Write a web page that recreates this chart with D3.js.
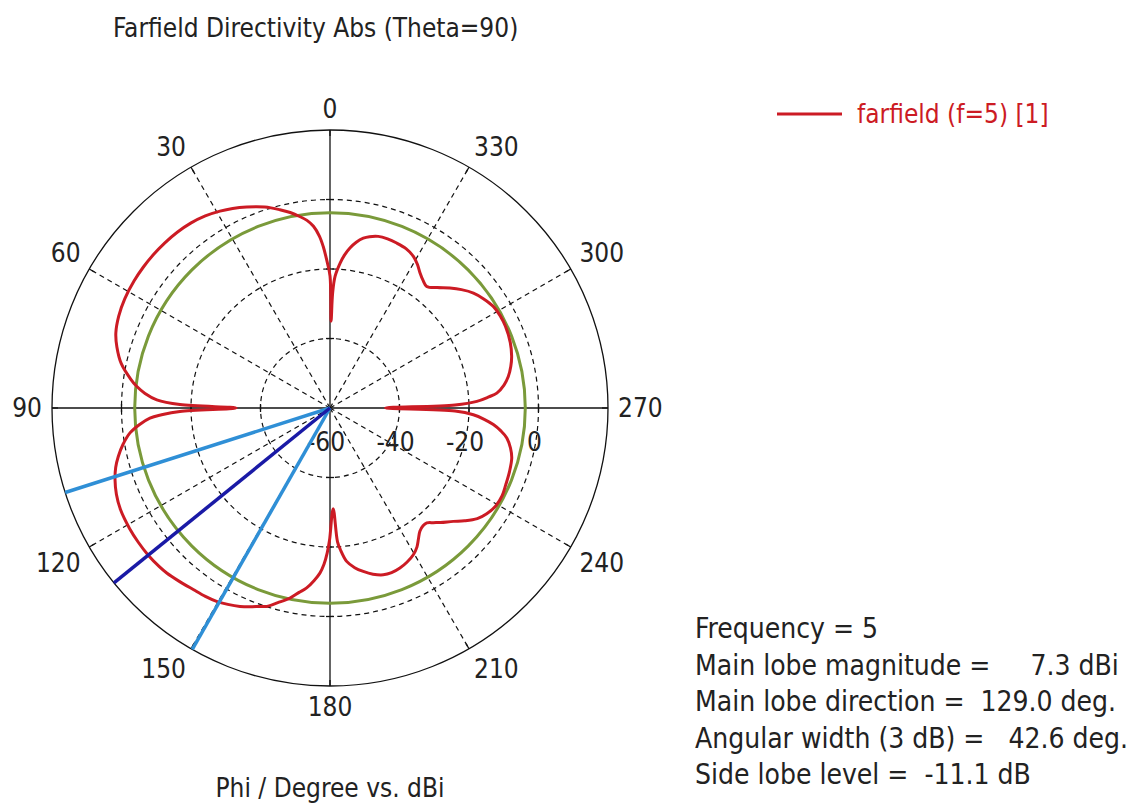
<!DOCTYPE html>
<html>
<head>
<meta charset="utf-8">
<script src="https://cdn.jsdelivr.net/npm/d3@7"></script>
<style>
  html, body { margin: 0; padding: 0; background: #ffffff; }
  svg { display: block; }
  text { font-family: "DejaVu Sans Condensed", "DejaVu Sans", sans-serif; font-stretch: condensed; fill: #222; }
</style>
</head>
<body>
<svg id="chart" width="1129" height="807"></svg>
<script>
// Farfield cut, Theta = 90: directivity (dBi) versus Phi (degrees)
const phiDeg = [
  0, 1.3, 2.4, 3.5, 5.2, 7, 9, 11.5, 14.2, 18, 22.5, 26, 29.2, 33, 37, 41, 45, 49, 53, 57,
  62, 66.5, 70.7, 74, 78, 81.8, 83.6, 85.5, 87.3, 88.7, 90, 91.3, 92.3, 93.2, 95, 97.1,
  100, 102.9, 105.5, 108.4, 112, 115.8, 121, 125, 129, 133, 135.3, 139, 143, 146.5, 149.6, 152.5,
  155.6, 158, 160.6, 162.3, 165, 168.1, 170.5, 172.6, 174.7, 176.5, 177.8, 178.9, 179.8, 181.8,
  183.2, 184.2, 186.2, 188.8, 191.5, 194.5, 197.7, 200.5, 203.6, 206.5, 209.6, 212, 214, 216.1,
  218.3, 220.1, 222, 224, 227.4, 230, 233.1, 236, 239.4, 243, 246.3, 250.5, 254.6, 257.5, 260.4,
  262.3, 264.2, 265.8, 267.3, 268.6, 270, 271.4, 272.6, 274, 275.1, 277.5, 280, 283, 285.9, 290,
  295, 298.5, 301.9, 305.5, 308.7, 312, 315, 318.3, 321.5, 323.8, 326.3, 328.7, 331.2, 334.5,
  338, 341.2, 344.3, 347, 348.9, 351, 352.9, 354.6, 356, 357.8, 358.7, 359.3
];
const dirDbi = [
  -22, -17.3, -13.5, -10.5, -7.5, -5.6, -4.2, -2.6, -1.15, 0.8, 2.6, 3.9, 4.9, 5.9, 6.6, 7.0, 7.2, 7.3, 7.3, 7.2,
  6.9, 6.3, 5.3, 3.8, 1.4, -2.1, -4.0, -6.6, -10.1, -16.8, -33, -16.8, -11.5, -8.1, -4.9, -2.0,
  0.5, 2.5, 4.0, 5.2, 6.3, 7.0, 7.3, 7.35, 7.3, 7.05, 6.8, 6.1, 5.4, 5.0, 4.5, 3.7,
  2.7, 1.7, 0.55, -0.05, -2.0, -4.1, -6.2, -7.8, -10.1, -12.4, -15, -18.3, -22, -31,
  -21.5, -19.1, -15.6, -13.5, -12.0, -10.6, -9.6, -9.4, -9.75, -10.4, -11.45, -12.8, -14.5, -16.1,
  -16.8, -16.75, -15.6, -14.2, -11.8, -9.5, -7.0, -5.6, -4.6, -4.4, -4.8, -5.2, -5.75, -6.8, -8.4,
  -10.3, -12.75, -15.5, -18.7, -24, -44, -24, -17.7, -14.2, -11.8, -9.5, -7.9, -6.6, -5.65, -4.8,
  -4.3, -4.3, -4.65, -5.8, -7.1, -9.1, -11.2, -13.6, -15.3, -14.6, -13.3, -11.6, -10.2, -9.2,
  -8.8, -8.6, -8.7, -9.4, -10.2, -11.7, -13.6, -15.8, -18.2, -22.1, -27, -35
];

// Radial (dB) axis
const radialDomain = [-60, 20];
const ringValues = [-40, -20, 0];
const ringLabelValues = [-60, -40, -20, 0];

// Angular axis
const angleTicks = [0, 30, 60, 90, 120, 150, 180, 210, 240, 270, 300, 330];

// Main lobe results
const frequency = 5;
const mainLobeMag = 7.3;       // dBi
const mainLobeDir = 129.0;     // deg
const angularWidth = 42.6;     // deg (3 dB)
const sideLobeLevel = -11.1;   // dB

const titleText = "Farfield Directivity Abs (Theta=90)";
const axisTitle = "Phi / Degree vs. dBi";
const legendText = "farfield (f=5) [1]";
const infoLines = [
  "Frequency = " + frequency,
  "Main lobe magnitude =     " + mainLobeMag.toFixed(1) + " dBi",
  "Main lobe direction =  " + mainLobeDir.toFixed(1) + " deg.",
  "Angular width (3 dB) =   " + angularWidth.toFixed(1) + " deg.",
  "Side lobe level =  " + sideLobeLevel.toFixed(1) + " dB"
];

// ---- layout ----
const cx = 330, cy = 408, R = 278;
const fontSize = 26;
const colors = {
  curve: "#cc1b24",
  sideLobe: "#7a9a3a",
  mainDir: "#1a1aa6",
  beamEdge: "#2f8fd6",
  grid: "#111"
};

const svg = d3.select("#chart");
const rScale = d3.scaleLinear().domain(radialDomain).range([0, R]);
const toRad = d => d * Math.PI / 180;
// Phi runs counter-clockwise from the top of the plot
const polar = (phi, rad) => [cx - rad * Math.sin(toRad(phi)), cy - rad * Math.cos(toRad(phi))];

const g = svg.append("g");

// dashed rings
g.selectAll("circle.ring").data(ringValues).join("circle")
  .attr("class", "ring")
  .attr("cx", cx).attr("cy", cy)
  .attr("r", d => rScale(d))
  .attr("fill", "none").attr("stroke", colors.grid)
  .attr("stroke-width", 1.2).attr("stroke-dasharray", "5,4");

// dashed spokes (all but the main axes)
g.selectAll("line.spoke").data(angleTicks.filter(a => a % 90 !== 0)).join("line")
  .attr("class", "spoke")
  .attr("x1", cx).attr("y1", cy)
  .attr("x2", d => polar(d, R)[0]).attr("y2", d => polar(d, R)[1])
  .attr("stroke", colors.grid).attr("stroke-width", 1.2).attr("stroke-dasharray", "5,4");

// solid main axes
g.selectAll("line.axis").data([0, 90]).join("line")
  .attr("class", "axis")
  .attr("x1", d => polar(d, R)[0]).attr("y1", d => polar(d, R)[1])
  .attr("x2", d => polar(d + 180, R)[0]).attr("y2", d => polar(d + 180, R)[1])
  .attr("stroke", colors.grid).attr("stroke-width", 1.3);

// tick marks where the rings cross the main axes
const axisTicks = [];
[0, 90, 180, 270].forEach(a => ringValues.forEach(v => axisTicks.push({ a, v })));
g.selectAll("line.atick").data(axisTicks).join("line")
  .attr("class", "atick")
  .attr("x1", d => polar(d.a, rScale(d.v))[0] + 4 * Math.cos(toRad(d.a)))
  .attr("y1", d => polar(d.a, rScale(d.v))[1] - 4 * Math.sin(toRad(d.a)))
  .attr("x2", d => polar(d.a, rScale(d.v))[0] - 4 * Math.cos(toRad(d.a)))
  .attr("y2", d => polar(d.a, rScale(d.v))[1] + 4 * Math.sin(toRad(d.a)))
  .attr("stroke", colors.grid).attr("stroke-width", 1.3);

// outer circle
g.append("circle").attr("cx", cx).attr("cy", cy).attr("r", R)
  .attr("fill", "none").attr("stroke", colors.grid).attr("stroke-width", 1.3);

// ticks on the outer circle
g.selectAll("line.otick").data(angleTicks).join("line")
  .attr("class", "otick")
  .attr("x1", d => polar(d, R - 6)[0]).attr("y1", d => polar(d, R - 6)[1])
  .attr("x2", d => polar(d, R)[0]).attr("y2", d => polar(d, R)[1])
  .attr("stroke", colors.grid).attr("stroke-width", 1.3);

// angle labels, placed outside the circle with their box corner toward it
const labelGap = 288;
g.selectAll("text.alabel").data(angleTicks).join("text")
  .attr("class", "alabel")
  .attr("font-size", fontSize)
  .attr("text-anchor", "middle")
  .attr("dominant-baseline", "central")
  .text(d => d)
  .each(function (d) {
    const bb = this.getBBox();
    const s = -Math.sin(toRad(d)), c = -Math.cos(toRad(d));
    const sx = Math.abs(s) < 1e-6 ? 0 : Math.sign(s);
    const sy = Math.abs(c) < 1e-6 ? 0 : Math.sign(c);
    const [px, py] = polar(d, labelGap);
    d3.select(this).attr("x", px + sx * bb.width / 2).attr("y", py + sy * bb.height * 0.38);
  });

// radial dB labels below the horizontal axis
g.selectAll("text.rlabel").data(ringLabelValues).join("text")
  .attr("class", "rlabel")
  .attr("font-size", fontSize)
  .attr("text-anchor", "middle")
  .attr("x", d => polar(270, rScale(d))[0] - 4)
  .attr("y", cy + 43)
  .text(d => d);

// side lobe reference circle
g.append("circle").attr("cx", cx).attr("cy", cy)
  .attr("r", rScale(mainLobeMag + sideLobeLevel))
  .attr("fill", "none").attr("stroke", colors.sideLobe).attr("stroke-width", 3);

// directivity pattern
const pattern = phiDeg.map((p, i) => ({ phi: p, v: dirDbi[i] }));
const radial = d3.lineRadial()
  .angle(d => -toRad(d.phi))
  .radius(d => rScale(d.v))
  .curve(d3.curveCatmullRomClosed.alpha(0.5));
g.append("path")
  .attr("transform", `translate(${cx},${cy})`)
  .attr("d", radial(pattern))
  .attr("fill", "none").attr("stroke", colors.curve)
  .attr("stroke-width", 3).attr("stroke-linejoin", "round");

// main lobe direction and 3 dB beam edges
const beamLines = [
  { phi: mainLobeDir - angularWidth / 2, color: colors.beamEdge },
  { phi: mainLobeDir + angularWidth / 2, color: colors.beamEdge },
  { phi: mainLobeDir, color: colors.mainDir }
];
g.selectAll("line.beam").data(beamLines).join("line")
  .attr("class", "beam")
  .attr("x1", cx).attr("y1", cy)
  .attr("x2", d => polar(d.phi, R)[0]).attr("y2", d => polar(d.phi, R)[1])
  .attr("stroke", d => d.color).attr("stroke-width", 3.5);

// title and axis caption
svg.append("text").attr("x", 113).attr("y", 37).attr("font-size", fontSize).text(titleText);
svg.append("text").attr("x", cx).attr("y", 797).attr("font-size", fontSize)
  .attr("text-anchor", "middle").text(axisTitle);

// legend
const legend = svg.append("g");
legend.append("line").attr("x1", 777).attr("x2", 842).attr("y1", 114).attr("y2", 114)
  .attr("stroke", colors.curve).attr("stroke-width", 3);
legend.append("text").attr("x", 857).attr("y", 123).attr("font-size", fontSize)
  .style("fill", colors.curve).text(legendText);

// result summary
svg.append("g").selectAll("text").data(infoLines).join("text")
  .attr("x", 695).attr("y", (d, i) => 638 + i * 36.5)
  .attr("font-size", 28)
  .style("white-space", "pre").attr("xml:space", "preserve")
  .text(d => d);
</script>
</body>
</html>
